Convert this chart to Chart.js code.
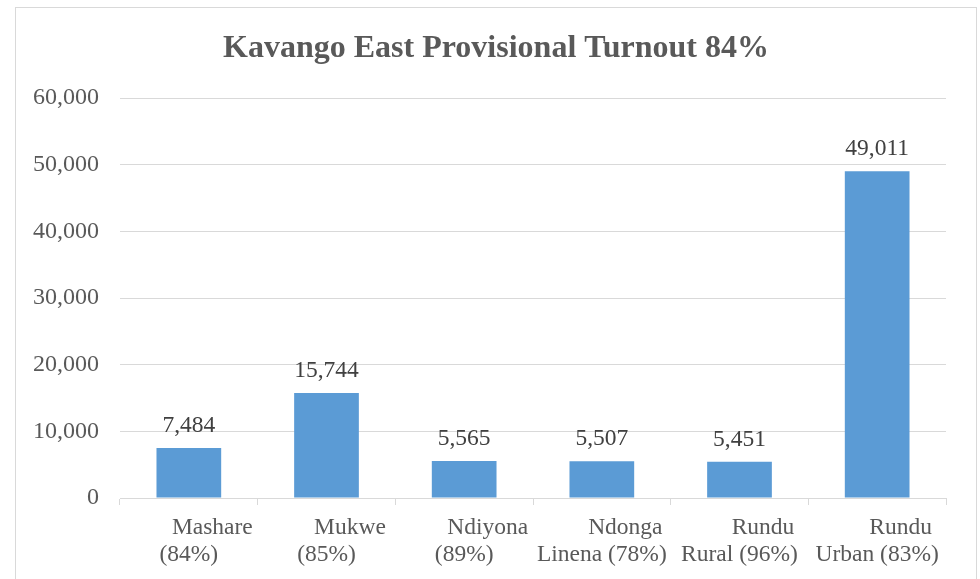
<!DOCTYPE html>
<html>
<head>
<meta charset="utf-8">
<script src="https://cdn.jsdelivr.net/npm/chart.js@4/dist/chart.umd.min.js"></script>
<style>
  body { margin: 0; background: #ffffff; }
  canvas { display: block; }
</style>
</head>
<body>
<canvas id="TurnoutChart" width="980" height="579"></canvas>
<script>
const chartTitle = "Kavango East Provisional Turnout 84%";
const constituencies = ["Mashare", "Mukwe", "Ndiyona", "Ndonga Linena", "Rundu Rural", "Rundu Urban"];
const turnout = ["84%", "85%", "89%", "78%", "96%", "83%"];
const votes = [7484, 15744, 5565, 5507, 5451, 49011];
const yTicks = [0, 10000, 20000, 30000, 40000, 50000, 60000];

const serif = "'Liberation Serif', 'Times New Roman', serif";

// frame around the whole chart + title centred on the frame
const framePlugin = {
  id: "frame",
  beforeDraw(chart) {
    const ctx = chart.ctx;
    ctx.save();
    ctx.fillStyle = "#ffffff";
    ctx.fillRect(0, 0, chart.width, chart.height);
    ctx.strokeStyle = "#d9d9d9";
    ctx.lineWidth = 1;
    ctx.strokeRect(15.5, 7.5, 961, 620);
    ctx.font = "bold 32px " + serif;
    ctx.fillStyle = "#595959";
    ctx.textAlign = "center";
    ctx.textBaseline = "alphabetic";
    ctx.fillText(chartTitle, 496, 57);
    ctx.restore();
  },
};

// value labels above the bars
const valueLabels = {
  id: "valueLabels",
  afterDatasetsDraw(chart) {
    const ctx = chart.ctx;
    const meta = chart.getDatasetMeta(0);
    ctx.save();
    ctx.font = "23.5px " + serif;
    ctx.fillStyle = "#404040";
    ctx.textAlign = "center";
    ctx.textBaseline = "alphabetic";
    meta.data.forEach(function (bar, i) {
      ctx.fillText(votes[i].toLocaleString("en-US"), bar.x, bar.y - 16);
    });
    ctx.restore();
  },
};

function tickLabel(i) {
  const words = constituencies[i].split(" ");
  const first = words.shift();
  const rest = words.concat(["(" + turnout[i] + ")"]).join(" ");
  return ["        " + first, rest];
}

new Chart(document.getElementById("TurnoutChart"), {
  type: "bar",
  data: {
    labels: constituencies,
    datasets: [
      {
        data: votes,
        backgroundColor: "#5b9bd5",
        borderWidth: 0,
        barPercentage: 0.47,
        categoryPercentage: 1,
      },
    ],
  },
  options: {
    responsive: false,
    animation: false,
    layout: { padding: { left: 0, right: 34, top: 98, bottom: 0 } },
    plugins: {
      legend: { display: false },
      tooltip: { enabled: false },
      title: { display: false },
    },
    scales: {
      x: {
        afterFit: function (scale) {
          scale.height = 81;
        },
        grid: {
          drawOnChartArea: false,
          drawTicks: true,
          tickLength: 7,
          color: "#d9d9d9",
        },
        border: { color: "#d9d9d9" },
        ticks: {
          color: "#595959",
          font: { family: serif, size: 23.5, lineHeight: 1.15 },
          padding: 9,
          maxRotation: 0,
          autoSkip: false,
          callback: function (value, index) {
            return tickLabel(index);
          },
        },
      },
      y: {
        min: 0,
        max: 60000,
        afterBuildTicks: function (scale) {
          scale.ticks = yTicks.map(function (v) { return { value: v }; });
        },
        afterFit: function (scale) {
          scale.width = 120;
        },
        grid: { color: "#d9d9d9", drawTicks: false },
        border: { display: false },
        ticks: {
          color: "#595959",
          font: { family: serif, size: 24 },
          padding: 21,
          callback: function (value) {
            return value.toLocaleString("en-US");
          },
        },
      },
    },
  },
  plugins: [framePlugin, valueLabels],
});
</script>
</body>
</html>
